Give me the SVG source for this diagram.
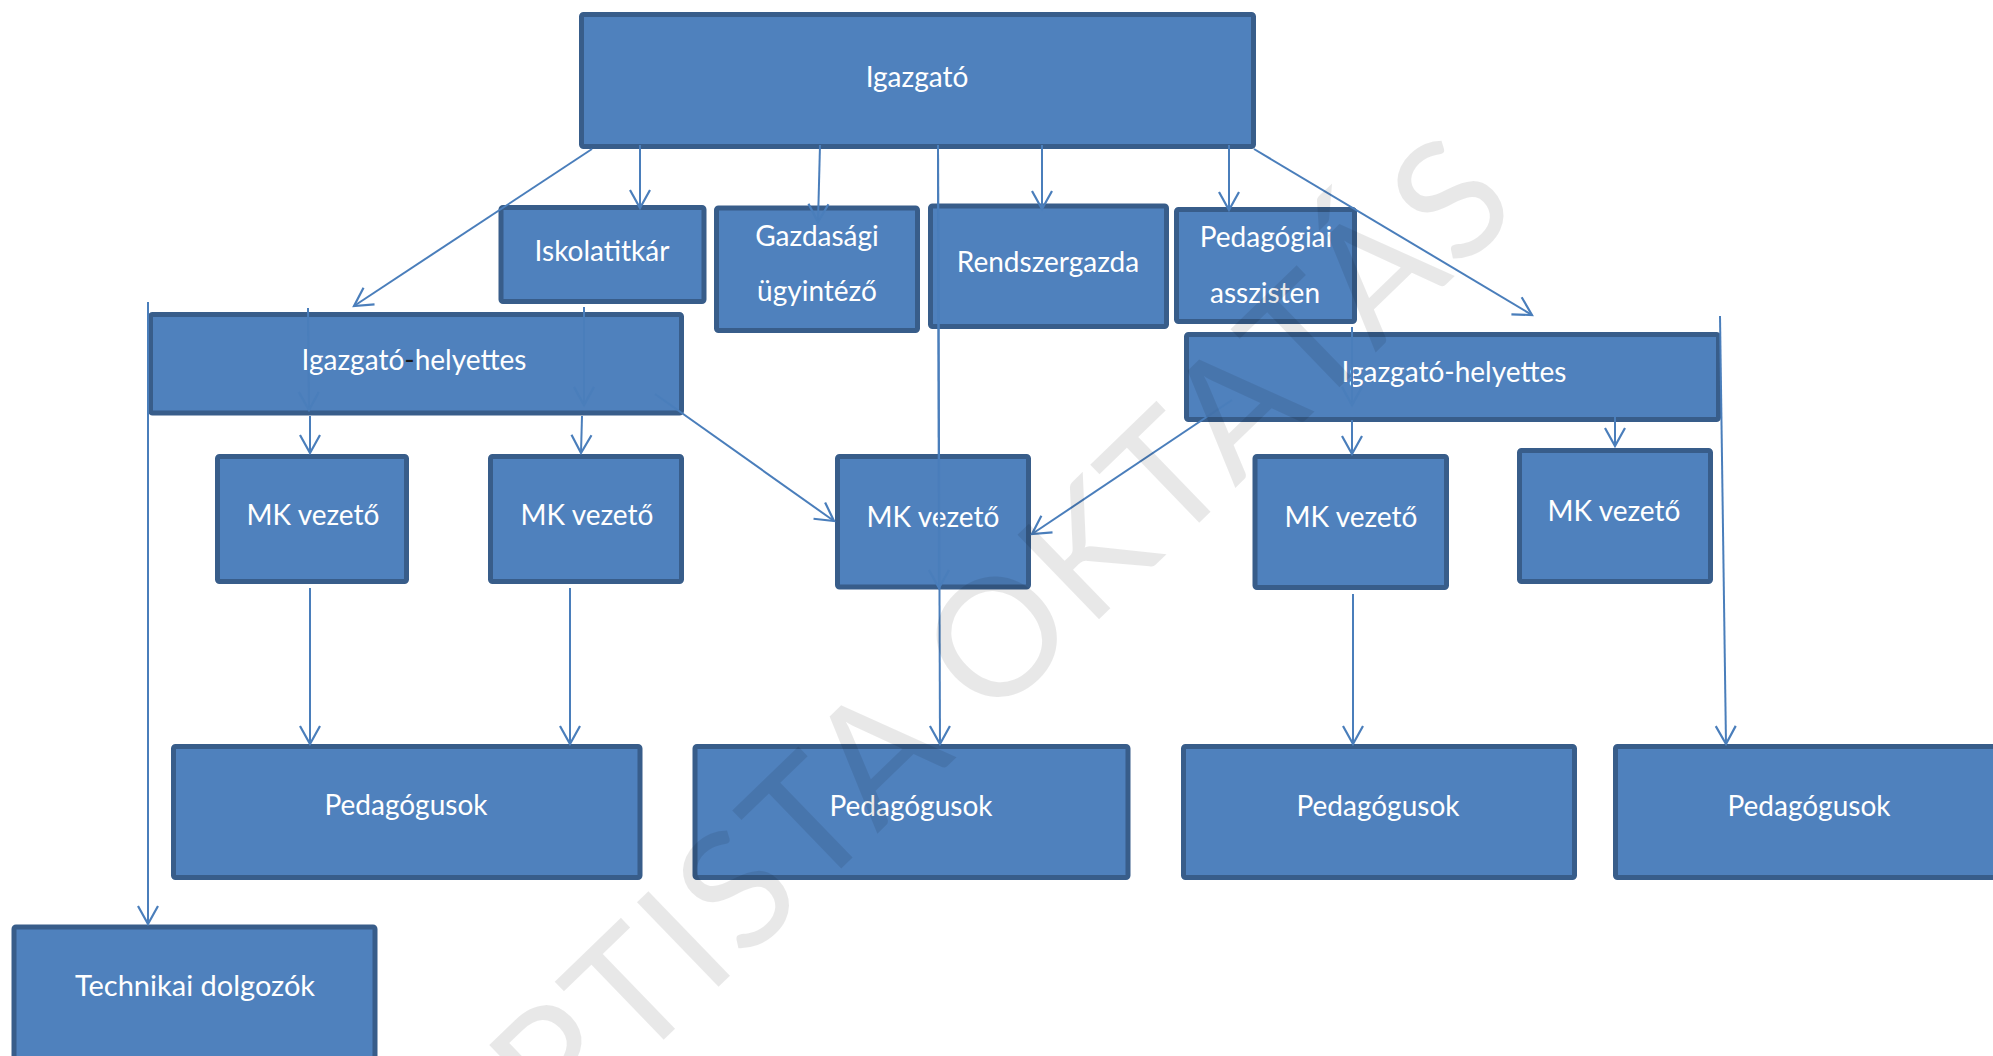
<svg xmlns="http://www.w3.org/2000/svg" width="1993" height="1056" viewBox="0 0 1993 1056">
<style>
.box{fill:#4F81BD;stroke:#385D8A;stroke-width:5}
.lbl{fill:#FFFFFF;font-family:Lato,"Open Sans","DejaVu Sans",sans-serif;font-size:28px;text-anchor:middle}
.con{fill:none;stroke:#4A7EBB;stroke-width:2;marker-end:url(#arr)}
.wm{fill:#000000;fill-opacity:0.09;font-family:Lato,"Open Sans","DejaVu Sans",sans-serif;font-size:164px;letter-spacing:5px}
</style>
<defs>
<marker id="arr" markerUnits="userSpaceOnUse" markerWidth="24" markerHeight="24" viewBox="-20 -12 22 24" refX="0" refY="0" orient="auto">
<path d="M-18,-10 L0,0 L-18,10" fill="none" stroke="#4A7EBB" stroke-width="2.2"/>
</marker>
</defs>
<rect width="1993" height="1056" fill="#FFFFFF"/>
<g id="igazgato"><rect class="box" x="581.5" y="14.5" width="672" height="132" rx="2"/><text class="lbl" x="917" y="87">Igazgató</text></g>
<g id="iskolatitkar"><rect class="box" x="501" y="207.5" width="203" height="94" rx="2"/><text class="lbl" x="602" y="261">Iskolatitkár</text></g>
<g id="gazdasagi"><rect class="box" x="716.5" y="208" width="201" height="122.5" rx="2"/><text class="lbl" x="817" y="246">Gazdasági</text><text class="lbl" x="817" y="301">ügyintéző</text></g>
<g id="rendszergazda"><rect class="box" x="930.5" y="206" width="236" height="120.5" rx="2"/><text class="lbl" x="1048" y="272">Rendszergazda</text></g>
<g id="pedasszisztens"><rect class="box" x="1176.5" y="209.5" width="178" height="112" rx="2"/><text class="lbl" x="1266" y="247">Pedagógiai</text><text class="lbl" x="1265" y="303">asszisten</text></g>
<g id="ih-bal"><rect class="box" x="150.5" y="314.5" width="531" height="98.5" rx="2"/><text class="lbl" x="414" y="370">Igazgató<tspan fill="#1a1a1a">-</tspan>helyettes</text></g>
<g id="ih-jobb"><rect class="box" x="1186.5" y="334.5" width="532" height="85" rx="2"/><text class="lbl" x="1454" y="382">Igazgató-helyettes</text></g>
<g id="mk1"><rect class="box" x="217.5" y="456.5" width="189" height="125" rx="2"/><text class="lbl" x="313" y="525">MK vezető</text></g>
<g id="mk2"><rect class="box" x="490.5" y="456.5" width="191" height="125" rx="2"/><text class="lbl" x="587" y="525">MK vezető</text></g>
<g id="mk3"><rect class="box" x="837.5" y="456.5" width="191" height="130.5" rx="2"/><text class="lbl" x="933" y="527">MK vezető</text></g>
<g id="mk4"><rect class="box" x="1255" y="456.5" width="191.5" height="131" rx="2"/><text class="lbl" x="1351" y="527">MK vezető</text></g>
<g id="mk5"><rect class="box" x="1519.5" y="450.5" width="191" height="131" rx="2"/><text class="lbl" x="1614" y="521">MK vezető</text></g>
<g id="ped1"><rect class="box" x="173.5" y="746.5" width="466.5" height="131" rx="2"/><text class="lbl" x="406" y="815">Pedagógusok</text></g>
<g id="ped2"><rect class="box" x="695" y="746.5" width="433" height="131" rx="2"/><text class="lbl" x="911" y="816">Pedagógusok</text></g>
<g id="ped3"><rect class="box" x="1183.5" y="746.5" width="391" height="131" rx="2"/><text class="lbl" x="1378" y="816">Pedagógusok</text></g>
<g id="ped4"><rect class="box" x="1615.5" y="746.5" width="400" height="131" rx="2"/><text class="lbl" x="1809" y="816">Pedagógusok</text></g>
<g id="technikai"><rect class="box" x="14" y="927" width="361" height="150" rx="2"/><text class="lbl" x="195" y="996" style="font-size:29px">Technikai dolgozók</text></g>
<g id="connectors">
<line class="con" x1="592" y1="149" x2="354" y2="306"/>
<line class="con" x1="640" y1="145" x2="640" y2="208"/>
<line class="con" x1="820" y1="145" x2="818" y2="222"/>
<line class="con" x1="938" y1="145" x2="939" y2="588"/>
<line class="con" x1="938" y1="145" x2="940" y2="744"/>
<line class="con" x1="1042" y1="145" x2="1042" y2="209"/>
<line class="con" x1="1229" y1="145" x2="1229" y2="210"/>
<line class="con" x1="1254" y1="149" x2="1532" y2="315"/>
<line class="con" x1="1720" y1="316" x2="1726" y2="744"/>
<line class="con" x1="148" y1="302" x2="148" y2="924"/>
<line class="con" x1="308" y1="308" x2="309" y2="410"/>
<line class="con" x1="310" y1="416" x2="310" y2="453"/>
<line class="con" x1="584" y1="307" x2="584" y2="405"/>
<line class="con" x1="582" y1="416" x2="581" y2="453"/>
<line class="con" x1="655" y1="394" x2="834" y2="521"/>
<line class="con" x1="1232" y1="400" x2="1032" y2="534"/>
<line class="con" x1="1352" y1="327" x2="1352" y2="405"/>
<line class="con" x1="1352" y1="420" x2="1352" y2="454"/>
<line class="con" x1="1615" y1="417" x2="1615" y2="446"/>
<line class="con" x1="310" y1="588" x2="310" y2="744"/>
<line class="con" x1="570" y1="588" x2="570" y2="744"/>
<line class="con" x1="1353" y1="594" x2="1353" y2="744"/>
</g>
<g id="watermark"><text class="wm" transform="translate(560,1140) rotate(-44)">PTISTA OKTATÁS</text></g>
</svg>
